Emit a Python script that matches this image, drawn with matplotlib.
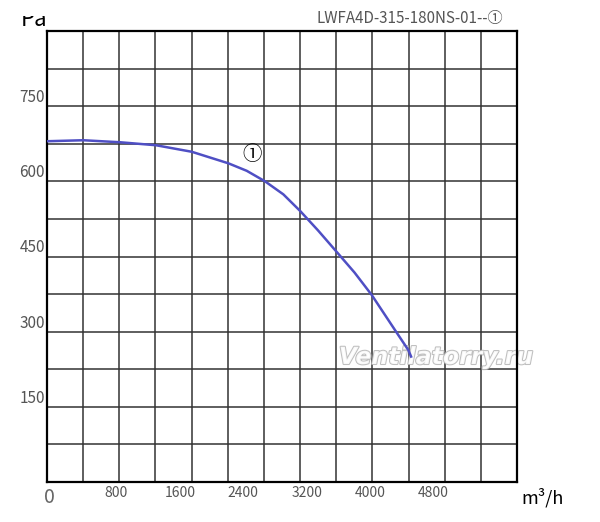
import numpy as np
import matplotlib.pyplot as plt
import matplotlib.patheffects as pe
import matplotlib.transforms as mtransforms
from matplotlib.patches import Rectangle

# curve (m3/h, Pa)
flow = [0, 458, 921, 1376, 1826, 2288, 2520, 2751, 2982, 3193, 3420, 3656, 3880,
        4098, 4404, 4560, 4600]
pressure = [680, 682, 678, 672, 659, 636, 621, 600, 574, 541, 502, 459, 418,
            373, 300, 263, 248]

x_labels = [800, 1600, 2400, 3200, 4000, 4800]
y_labels = [150, 300, 450, 600, 750]

x_max = 5930
y_max = 900

fonts = ['Noto Sans CJK SC', 'DejaVu Sans']

fig = plt.figure(figsize=(6, 5.22), dpi=100)
ax = fig.add_axes([47/600, 40/522, 470/600, 451/522])

ax.plot(flow, pressure, color='#4f4fc4', lw=1.8, zorder=3,
        solid_capstyle='butt', solid_joinstyle='round')

ax.set_xlim(0, x_max)
ax.set_ylim(0, y_max)
ax.set_xticks(np.linspace(0, x_max, 14))
ax.set_yticks(np.arange(0, y_max + 1, 75))
ax.tick_params(length=0, labelbottom=False, labelleft=False)
ax.grid(True, color='#333333', lw=1.1)
for s in ax.spines.values():
    s.set_linewidth(1.6)
    s.set_color('black')

# tick labels sit a bit off the grid, like in the original
off = mtransforms.ScaledTranslation(6/100, 0, fig.dpi_scale_trans)
for v in x_labels:
    ax.text(v, -0.025 * y_max, str(v), transform=ax.transData + off,
            ha='center', va='center', fontsize=10, color='#555555', family=fonts)
ax.text(30, -0.035 * y_max, '0', ha='center', va='center', fontsize=14,
        color='#666666', family=fonts, clip_on=False)
for v in y_labels:
    ax.text(-0.004 * x_max, v, str(v), ha='right', va='bottom', fontsize=11,
            color='#555555', family=fonts)

ax.text(1.01, -0.035, 'm³/h', transform=ax.transAxes, ha='left', va='center',
        fontsize=13, color='black', family=fonts)

ax.text(2587, 654, '①', ha='center', va='center', fontsize=14, color='black',
        family=fonts)

fig.text(317/600, 1 - 19/522, 'LWFA4D-315-180NS-01--①', ha='left', va='center',
         fontsize=10.9, color='#555555', family=fonts)

# "Pa" with its top cut off
fig.text(21/600, 1 - 26/522, 'Pa', ha='left', va='baseline', fontsize=16,
         color='black', family=fonts)
fig.patches.append(Rectangle((0, 1 - 15.5/522), 0.2, 15.5/522, transform=fig.transFigure,
                             facecolor='white', edgecolor='none', zorder=10))

# watermark
ax.text(436/600, 1 - 357/522, 'Ventilatorry.ru', transform=fig.transFigure,
        ha='center', va='center', fontsize=17, style='italic', weight='bold',
        color='white', alpha=0.9, zorder=2.5,
        path_effects=[pe.withStroke(linewidth=1.5, foreground='#b8b8b8')])

plt.savefig('out.png', dpi=100)
